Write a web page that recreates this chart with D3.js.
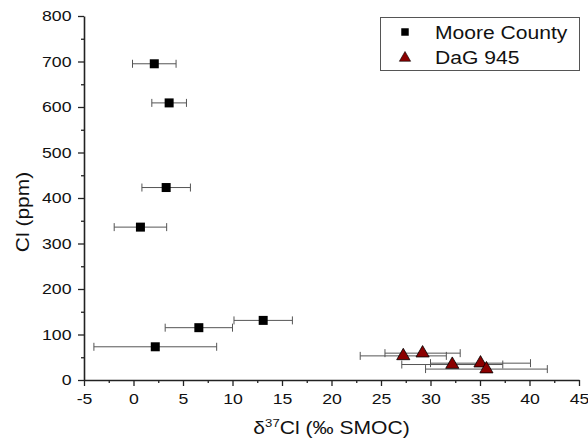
<!DOCTYPE html>
<html><head><meta charset="utf-8">
<script src="https://cdn.jsdelivr.net/npm/d3@7"></script>
<style>body{margin:0;background:#fff;} svg{display:block;font-family:"Liberation Sans",Arial,sans-serif;}</style>
</head><body>
<svg id="c" width="588" height="440"></svg>
<script>
// Data
const mooreX   = [2.1, 3.6, 3.3, 0.7, 6.6, 13.1, 2.2];
const mooreY   = [695, 609, 423, 336, 115, 131, 73];
const mooreErr = [2.2, 1.75, 2.45, 2.65, 3.4, 2.95, 6.2];
const dagX   = [27.25, 29.2, 32.2, 35.05, 35.65];
const dagY   = [53, 59, 34, 37, 24];
const dagErr = [4.35, 3.8, 5.1, 5.05, 6.15];
const xTicks = [-5, 0, 5, 10, 15, 20, 25, 30, 35, 40, 45];
const yTicks = [0, 100, 200, 300, 400, 500, 600, 700, 800];
const seriesNames = ["Moore County", "DaG 945"];

const svg = d3.select("#c");
const L = 84, R = 579, T = 16, B = 380;
const SX = 1.14;
const x = d3.scaleLinear().domain([-5, 45]).range([L, R]);
const y = d3.scaleLinear().domain([0, 800]).range([B, T]);

// minor ticks
const xMinor = d3.range(-5, 45.01, 2.5).filter(v => !xTicks.includes(v));
const yMinor = d3.range(0, 800.01, 50).filter(v => !yTicks.includes(v));

const axisColor = "#222";
const gx = svg.append("g").attr("transform", `translate(0,${B})`);
gx.call(d3.axisBottom(x).tickValues(xMinor).tickSize(3).tickFormat(""));
gx.call(g => g.selectAll(".domain").remove());
const gx2 = svg.append("g").attr("transform", `translate(0,${B})`);
gx2.call(d3.axisBottom(x).tickValues(xTicks).tickSize(6).tickPadding(7).tickSizeOuter(0).tickFormat(d => String(d)));
const gy = svg.append("g").attr("transform", `translate(${L},0)`);
gy.call(d3.axisLeft(y).tickValues(yMinor).tickSize(3).tickFormat(""));
gy.call(g => g.selectAll(".domain").remove());
const gy2 = svg.append("g").attr("transform", `translate(${L},0)`);
gy2.call(d3.axisLeft(y).tickValues(yTicks).tickSize(6).tickPadding(5).tickSizeOuter(0).tickFormat(d => String(d)));
svg.selectAll(".domain").attr("stroke", axisColor).attr("stroke-width", 1.6);
svg.selectAll(".tick line").attr("stroke", axisColor).attr("stroke-width", 1.3);
svg.selectAll(".tick text").attr("font-size", 15.5).attr("fill", "#111")
   .attr("transform", `scale(${SX},1)`)
   .attr("font-family", '"Liberation Sans",Arial,sans-serif');

// Axis titles
const xt = svg.append("text").attr("transform", `translate(331.5,434) scale(${SX},1)`).attr("text-anchor", "middle")
  .attr("font-size", 18.5).attr("fill", "#111");
xt.append("tspan").text("δ");
xt.append("tspan").attr("font-size", 11.5).attr("dy", -7).text("37");
xt.append("tspan").attr("dy", 7).text("Cl (‰ SMOC)");
svg.append("text").attr("transform", "translate(28.5,212) rotate(-90) scale(1,0.88)").attr("text-anchor", "middle")
  .attr("font-size", 21).attr("fill", "#111").text("Cl (ppm)");

// Error bars
const errColor = "#555";
function errBars(xs, ys, es) {
  const g = svg.append("g").attr("stroke", errColor).attr("stroke-width", 1);
  xs.forEach((v, i) => {
    const yy = y(ys[i]), x0 = x(v - es[i]), x1 = x(v + es[i]);
    g.append("line").attr("x1", x0).attr("x2", x1).attr("y1", yy).attr("y2", yy);
    g.append("line").attr("x1", x0).attr("x2", x0).attr("y1", yy - 4).attr("y2", yy + 4);
    g.append("line").attr("x1", x1).attr("x2", x1).attr("y1", yy - 4).attr("y2", yy + 4);
  });
}
errBars(mooreX, mooreY, mooreErr);
errBars(dagX, dagY, dagErr);

const sq = d3.symbol().type(d3.symbolSquare).size(81);
const tri = d3.symbol().type(d3.symbolTriangle).size(75);
svg.append("g").selectAll("path").data(mooreX).join("path")
  .attr("d", sq).attr("transform", (d, i) => `translate(${x(d)},${y(mooreY[i])})`)
  .attr("fill", "#000");
svg.append("g").selectAll("path").data(dagX).join("path")
  .attr("d", tri).attr("transform", (d, i) => `translate(${x(d)},${y(dagY[i])})`)
  .attr("fill", "#8b0000").attr("stroke", "#000").attr("stroke-width", 0.8);

// Legend
const lg = svg.append("g");
lg.append("rect").attr("x", 380.5).attr("y", 17.5).attr("width", 199).attr("height", 53)
  .attr("fill", "#fff").attr("stroke", "#555").attr("stroke-width", 1);
lg.append("path").attr("d", d3.symbol().type(d3.symbolSquare).size(56)())
  .attr("transform", "translate(405,32)").attr("fill", "#000");
lg.append("path").attr("d", d3.symbol().type(d3.symbolTriangle).size(55)())
  .attr("transform", "translate(405,58)").attr("fill", "#8b0000").attr("stroke", "#000").attr("stroke-width", 0.6);
lg.selectAll("text.l").data(seriesNames).join("text").attr("class", "l")
  .attr("transform", (d, i) => `translate(435,${38.5 + i * 25}) scale(${SX},1)`)
  .attr("font-size", 18.5).attr("fill", "#111").text(d => d);
</script>
</body></html>
